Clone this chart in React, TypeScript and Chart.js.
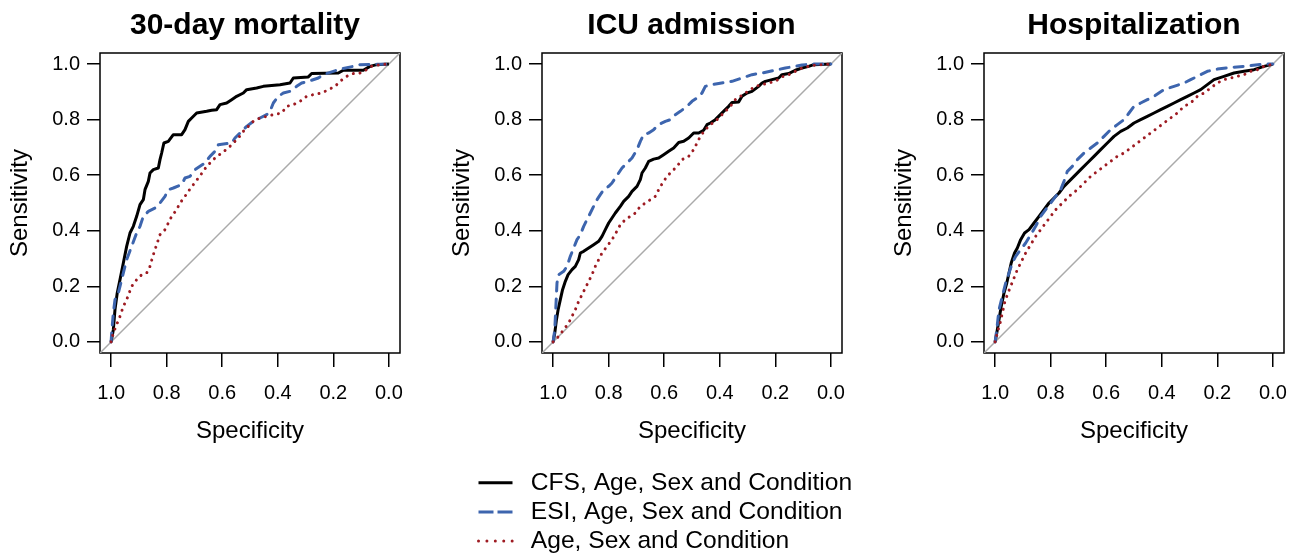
import React, { useEffect, useRef } from 'react';
import { Chart, registerables } from 'chart.js';

Chart.register(...registerables);

const FONT = '"Liberation Sans", Arial, Helvetica, sans-serif';
Chart.defaults.font.family = FONT;
Chart.defaults.color = '#000';

const tickValues = [0, 0.2, 0.4, 0.6, 0.8, 1.0];
const panelTitles = ['30-day mortality', 'ICU admission', 'Hospitalization'];
const seriesNames = ['CFS, Age, Sex and Condition', 'ESI, Age, Sex and Condition', 'Age, Sex and Condition'];
const diagSpec = [1.04, -0.04];
const diagSens = [-0.04, 1.04];

// 30-day mortality
const mortCfsSpec = [1.000, 0.992, 0.986, 0.978, 0.968, 0.956, 0.944, 0.932, 0.920, 0.908, 0.896, 0.884, 0.878, 0.866, 0.860, 0.848, 0.830, 0.824, 0.818, 0.810, 0.794, 0.776, 0.746, 0.734, 0.722, 0.710, 0.692, 0.656, 0.638, 0.620, 0.608, 0.584, 0.566, 0.548, 0.524, 0.512, 0.476, 0.452, 0.392, 0.356, 0.344, 0.290, 0.278, 0.182, 0.164, 0.092, 0.068, 0.044, 0.000];
const mortCfsSens = [0.000, 0.044, 0.116, 0.176, 0.224, 0.284, 0.344, 0.392, 0.416, 0.452, 0.494, 0.512, 0.548, 0.578, 0.608, 0.620, 0.626, 0.656, 0.680, 0.716, 0.722, 0.746, 0.746, 0.764, 0.794, 0.806, 0.824, 0.830, 0.834, 0.836, 0.854, 0.860, 0.872, 0.884, 0.896, 0.908, 0.914, 0.920, 0.926, 0.932, 0.950, 0.954, 0.966, 0.968, 0.978, 0.978, 0.992, 0.998, 1.000];
const mortEsiSpec = [1.000, 0.998, 0.992, 0.986, 0.974, 0.962, 0.944, 0.926, 0.908, 0.896, 0.884, 0.866, 0.842, 0.824, 0.806, 0.794, 0.776, 0.746, 0.734, 0.716, 0.698, 0.680, 0.662, 0.644, 0.626, 0.614, 0.566, 0.554, 0.536, 0.512, 0.488, 0.464, 0.440, 0.428, 0.416, 0.398, 0.380, 0.356, 0.332, 0.314, 0.290, 0.254, 0.236, 0.200, 0.176, 0.128, 0.104, 0.000];
const mortEsiSens = [0.000, 0.032, 0.104, 0.152, 0.176, 0.224, 0.296, 0.344, 0.392, 0.416, 0.452, 0.470, 0.482, 0.500, 0.524, 0.548, 0.554, 0.566, 0.590, 0.596, 0.620, 0.632, 0.644, 0.668, 0.686, 0.710, 0.716, 0.734, 0.752, 0.776, 0.794, 0.806, 0.818, 0.830, 0.860, 0.884, 0.896, 0.902, 0.920, 0.932, 0.938, 0.950, 0.962, 0.974, 0.982, 0.992, 0.998, 1.000];
const mortBaseSpec = [1.000, 0.992, 0.980, 0.968, 0.956, 0.944, 0.926, 0.908, 0.890, 0.872, 0.860, 0.850, 0.842, 0.834, 0.824, 0.806, 0.794, 0.782, 0.764, 0.752, 0.738, 0.722, 0.704, 0.686, 0.668, 0.656, 0.626, 0.602, 0.578, 0.560, 0.542, 0.524, 0.506, 0.488, 0.464, 0.440, 0.416, 0.386, 0.368, 0.344, 0.320, 0.296, 0.272, 0.242, 0.218, 0.194, 0.176, 0.152, 0.128, 0.104, 0.080, 0.062, 0.032, 0.000];
const mortBaseSens = [0.000, 0.032, 0.062, 0.092, 0.128, 0.152, 0.200, 0.224, 0.242, 0.248, 0.272, 0.308, 0.332, 0.356, 0.386, 0.404, 0.428, 0.452, 0.476, 0.500, 0.518, 0.542, 0.566, 0.590, 0.614, 0.632, 0.662, 0.680, 0.698, 0.716, 0.734, 0.758, 0.776, 0.794, 0.806, 0.812, 0.818, 0.824, 0.848, 0.854, 0.866, 0.884, 0.890, 0.896, 0.908, 0.920, 0.938, 0.956, 0.966, 0.968, 0.980, 0.992, 0.998, 1.000];

// ICU admission
const icuCfsSpec = [1.000, 0.994, 0.988, 0.982, 0.974, 0.966, 0.956, 0.946, 0.932, 0.920, 0.908, 0.902, 0.890, 0.872, 0.854, 0.836, 0.824, 0.812, 0.800, 0.788, 0.776, 0.758, 0.746, 0.728, 0.716, 0.698, 0.686, 0.680, 0.668, 0.656, 0.638, 0.620, 0.602, 0.584, 0.566, 0.548, 0.530, 0.512, 0.494, 0.476, 0.458, 0.446, 0.434, 0.416, 0.398, 0.380, 0.368, 0.356, 0.332, 0.320, 0.302, 0.284, 0.260, 0.248, 0.236, 0.212, 0.188, 0.176, 0.152, 0.128, 0.104, 0.080, 0.062, 0.000];
const icuCfsSens = [0.000, 0.032, 0.080, 0.116, 0.152, 0.188, 0.218, 0.242, 0.260, 0.272, 0.296, 0.320, 0.326, 0.338, 0.350, 0.362, 0.380, 0.404, 0.428, 0.446, 0.464, 0.488, 0.506, 0.524, 0.542, 0.560, 0.584, 0.608, 0.626, 0.650, 0.658, 0.662, 0.674, 0.686, 0.698, 0.718, 0.722, 0.734, 0.752, 0.752, 0.762, 0.782, 0.788, 0.800, 0.818, 0.836, 0.848, 0.862, 0.864, 0.884, 0.896, 0.902, 0.920, 0.932, 0.938, 0.944, 0.950, 0.962, 0.966, 0.978, 0.986, 0.992, 0.998, 1.000];
const icuEsiSpec = [1.000, 0.994, 0.990, 0.986, 0.980, 0.962, 0.950, 0.938, 0.926, 0.914, 0.902, 0.890, 0.878, 0.866, 0.854, 0.842, 0.830, 0.818, 0.800, 0.788, 0.776, 0.764, 0.752, 0.734, 0.716, 0.698, 0.686, 0.674, 0.656, 0.638, 0.620, 0.596, 0.578, 0.560, 0.542, 0.518, 0.500, 0.482, 0.464, 0.452, 0.428, 0.404, 0.380, 0.356, 0.332, 0.308, 0.284, 0.248, 0.200, 0.164, 0.128, 0.104, 0.068, 0.000];
const icuEsiSens = [0.000, 0.044, 0.128, 0.212, 0.242, 0.254, 0.272, 0.308, 0.338, 0.368, 0.386, 0.416, 0.440, 0.464, 0.488, 0.512, 0.530, 0.548, 0.560, 0.572, 0.590, 0.608, 0.626, 0.644, 0.662, 0.692, 0.722, 0.746, 0.752, 0.764, 0.782, 0.794, 0.800, 0.818, 0.830, 0.848, 0.866, 0.878, 0.896, 0.920, 0.926, 0.930, 0.934, 0.938, 0.946, 0.954, 0.962, 0.968, 0.978, 0.986, 0.992, 0.997, 1.000, 1.000];
const icuBaseSpec = [1.000, 0.980, 0.962, 0.944, 0.932, 0.920, 0.908, 0.896, 0.884, 0.872, 0.860, 0.848, 0.836, 0.824, 0.806, 0.788, 0.774, 0.758, 0.740, 0.722, 0.704, 0.686, 0.668, 0.650, 0.632, 0.620, 0.606, 0.590, 0.572, 0.554, 0.536, 0.512, 0.494, 0.482, 0.470, 0.452, 0.434, 0.416, 0.398, 0.380, 0.362, 0.344, 0.326, 0.308, 0.290, 0.272, 0.248, 0.224, 0.200, 0.176, 0.152, 0.128, 0.104, 0.080, 0.056, 0.000];
const icuBaseSens = [0.000, 0.020, 0.044, 0.068, 0.092, 0.116, 0.146, 0.170, 0.194, 0.218, 0.242, 0.272, 0.296, 0.320, 0.344, 0.368, 0.392, 0.422, 0.440, 0.452, 0.464, 0.488, 0.500, 0.512, 0.524, 0.548, 0.572, 0.596, 0.614, 0.632, 0.656, 0.668, 0.692, 0.716, 0.740, 0.764, 0.782, 0.794, 0.812, 0.830, 0.848, 0.872, 0.884, 0.896, 0.908, 0.920, 0.926, 0.932, 0.938, 0.954, 0.962, 0.974, 0.986, 0.992, 0.997, 1.000];

// Hospitalization
const hospCfsSpec = [1.000, 0.994, 0.986, 0.978, 0.968, 0.958, 0.950, 0.942, 0.930, 0.920, 0.908, 0.894, 0.878, 0.860, 0.842, 0.824, 0.806, 0.788, 0.770, 0.752, 0.734, 0.716, 0.692, 0.668, 0.644, 0.620, 0.596, 0.572, 0.548, 0.524, 0.500, 0.476, 0.452, 0.428, 0.404, 0.380, 0.356, 0.332, 0.308, 0.284, 0.260, 0.236, 0.212, 0.176, 0.140, 0.104, 0.068, 0.032, 0.000];
const hospCfsSens = [0.000, 0.032, 0.080, 0.128, 0.176, 0.212, 0.248, 0.284, 0.320, 0.338, 0.368, 0.392, 0.404, 0.428, 0.452, 0.476, 0.500, 0.518, 0.536, 0.560, 0.578, 0.596, 0.620, 0.644, 0.668, 0.692, 0.716, 0.740, 0.758, 0.770, 0.788, 0.800, 0.812, 0.824, 0.836, 0.848, 0.860, 0.872, 0.884, 0.896, 0.908, 0.926, 0.944, 0.956, 0.968, 0.974, 0.980, 0.992, 1.000];
const hospEsiSpec = [1.000, 0.994, 0.986, 0.974, 0.962, 0.950, 0.938, 0.926, 0.908, 0.890, 0.872, 0.854, 0.836, 0.818, 0.800, 0.782, 0.764, 0.752, 0.740, 0.722, 0.704, 0.680, 0.656, 0.632, 0.608, 0.584, 0.560, 0.536, 0.518, 0.500, 0.476, 0.452, 0.428, 0.392, 0.356, 0.320, 0.296, 0.272, 0.236, 0.200, 0.152, 0.104, 0.032, 0.000];
const hospEsiSens = [0.000, 0.044, 0.116, 0.164, 0.212, 0.248, 0.284, 0.308, 0.332, 0.356, 0.386, 0.416, 0.452, 0.476, 0.500, 0.524, 0.548, 0.578, 0.614, 0.632, 0.656, 0.680, 0.698, 0.716, 0.740, 0.764, 0.782, 0.800, 0.824, 0.848, 0.860, 0.872, 0.884, 0.908, 0.920, 0.932, 0.944, 0.956, 0.974, 0.982, 0.988, 0.992, 1.000, 1.000];
const hospBaseSpec = [1.000, 0.992, 0.982, 0.974, 0.966, 0.956, 0.944, 0.932, 0.920, 0.908, 0.890, 0.872, 0.854, 0.836, 0.818, 0.800, 0.782, 0.758, 0.734, 0.704, 0.680, 0.656, 0.632, 0.608, 0.584, 0.560, 0.536, 0.512, 0.488, 0.464, 0.440, 0.416, 0.392, 0.368, 0.344, 0.320, 0.296, 0.272, 0.248, 0.224, 0.200, 0.176, 0.152, 0.128, 0.104, 0.080, 0.056, 0.032, 0.000];
const hospBaseSens = [0.000, 0.032, 0.068, 0.104, 0.140, 0.170, 0.200, 0.230, 0.260, 0.284, 0.320, 0.350, 0.380, 0.404, 0.428, 0.452, 0.476, 0.500, 0.524, 0.548, 0.572, 0.596, 0.614, 0.632, 0.650, 0.668, 0.680, 0.698, 0.716, 0.734, 0.752, 0.770, 0.788, 0.806, 0.824, 0.848, 0.860, 0.884, 0.896, 0.914, 0.932, 0.944, 0.950, 0.956, 0.962, 0.974, 0.980, 0.992, 1.000];

const BLACK = '#000000';
const BLUE = '#3D65AE';
const RED = '#9E1B22';
const GRAY = '#AAAAAA';

const toXY = (xs: number[], ys: number[]) => xs.map((x, i) => ({ x, y: ys[i] }));

const boxPlugin = {
  id: 'plotBox',
  beforeDatasetsDraw(chart: any) {
    const { ctx, chartArea } = chart;
    ctx.save();
    ctx.strokeStyle = '#000';
    ctx.lineWidth = 1.5;
    ctx.strokeRect(chartArea.left, chartArea.top, chartArea.right - chartArea.left, chartArea.bottom - chartArea.top);
    ctx.restore();
  },
};

type PanelProps = {
  left: number;
  cfs: [number[], number[]];
  esi: [number[], number[]];
  base: [number[], number[]];
};

function RocPanel({ left, cfs, esi, base }: PanelProps) {
  const ref = useRef<HTMLCanvasElement>(null);
  useEffect(() => {
    const tickFont = { size: 20, family: FONT };
    const titleFont = { size: 24, family: FONT };
    const chart = new Chart(ref.current as HTMLCanvasElement, {
      type: 'line',
      data: {
        datasets: [
          { label: 'diag', data: toXY(diagSpec, diagSens), borderColor: GRAY, borderWidth: 1.5, order: 4 },
          { label: seriesNames[0], data: toXY(cfs[0], cfs[1]), borderColor: BLACK, borderWidth: 3, order: 3 },
          { label: seriesNames[1], data: toXY(esi[0], esi[1]), borderColor: BLUE, borderWidth: 3, borderDash: [9, 8], borderCapStyle: 'round', order: 2 },
          { label: seriesNames[2], data: toXY(base[0], base[1]), borderColor: RED, borderWidth: 3, borderDash: [0.01, 6.7], borderCapStyle: 'round', order: 1 },
        ] as any,
      },
      options: {
        responsive: false,
        animation: false,
        events: [],
        layout: { padding: { left: 0, right: 14, top: 53, bottom: 0 } },
        elements: { point: { radius: 0 }, line: { tension: 0, borderJoinStyle: 'round' } },
        plugins: { legend: { display: false }, tooltip: { enabled: false }, title: { display: false } },
        scales: {
          x: {
            type: 'linear',
            reverse: true,
            min: -0.04,
            max: 1.04,
            afterBuildTicks: (s: any) => { s.ticks = tickValues.map((v) => ({ value: v })); },
            afterFit: (s: any) => { s.height = 107; },
            ticks: { autoSkip: false, maxRotation: 0, padding: 14, color: '#000', font: tickFont, callback: (v: any) => Number(v).toFixed(1) },
            grid: { drawOnChartArea: false, drawTicks: true, tickLength: 14, color: '#000', lineWidth: 1.5 },
            border: { display: false },
            title: { display: true, text: 'Specificity', color: '#000', font: titleFont, padding: { top: 0, bottom: 14 } },
          },
          y: {
            type: 'linear',
            min: -0.04,
            max: 1.04,
            afterBuildTicks: (s: any) => { s.ticks = tickValues.map((v) => ({ value: v })); },
            afterFit: (s: any) => { s.width = 100; },
            ticks: { autoSkip: false, padding: 7, color: '#000', font: tickFont, callback: (v: any) => Number(v).toFixed(1) },
            grid: { drawOnChartArea: false, drawTicks: true, tickLength: 13, color: '#000', lineWidth: 1.5 },
            border: { display: false },
            title: { display: true, text: 'Sensitivity', color: '#000', font: titleFont, padding: { top: 6, bottom: 0 } },
          },
        },
      } as any,
      plugins: [boxPlugin],
    });
    return () => chart.destroy();
  }, []);
  return (
    <canvas
      ref={ref}
      width={414}
      height={460}
      style={{ position: 'absolute', left, top: 0, width: 414, height: 460 }}
    />
  );
}

function LegendChart() {
  const ref = useRef<HTMLCanvasElement>(null);
  useEffect(() => {
    const items = [
      { text: seriesNames[0], fillStyle: 'rgba(0,0,0,0)', strokeStyle: BLACK, lineWidth: 3, lineDash: [34, 60], lineCap: 'butt', pointStyle: 'line', hidden: false, datasetIndex: 0 },
      { text: seriesNames[1], fillStyle: 'rgba(0,0,0,0)', strokeStyle: BLUE, lineWidth: 3, lineDash: [15, 4, 15, 60], lineCap: 'butt', pointStyle: 'line', hidden: false, datasetIndex: 1 },
      { text: seriesNames[2], fillStyle: 'rgba(0,0,0,0)', strokeStyle: RED, lineWidth: 3, lineDash: [0.01, 8.4, 0.01, 8.4, 0.01, 8.4, 0.01, 8.4, 0.01, 60], lineCap: 'round', pointStyle: 'line', hidden: false, datasetIndex: 2 },
    ];
    const chart = new Chart(ref.current as HTMLCanvasElement, {
      type: 'line',
      data: { datasets: [] },
      options: {
        responsive: false,
        animation: false,
        events: [],
        layout: { padding: 0 },
        scales: { x: { display: false }, y: { display: false } },
        plugins: {
          tooltip: { enabled: false },
          legend: {
            display: true,
            position: 'top',
            align: 'start',
            maxHeight: 110,
            labels: {
              usePointStyle: true,
              pointStyleWidth: 40,
              padding: 4.5,
              color: '#000',
              font: { size: 24.6, family: FONT },
              generateLabels: () => items as any,
            },
          },
        },
      } as any,
    });
    return () => chart.destroy();
  }, []);
  return (
    <canvas
      ref={ref}
      width={400}
      height={120}
      style={{ position: 'absolute', left: 473.5, top: 466, width: 400, height: 120 }}
    />
  );
}

const panelLefts = [0, 442, 884];
const titleCenters = [245, 691.5, 1134];

export default function App() {
  const titleStyle = (c: number): React.CSSProperties => ({
    position: 'absolute',
    left: c - 200,
    top: 9,
    width: 400,
    textAlign: 'center',
    font: `bold 30px ${FONT}`,
    lineHeight: '30px',
    color: '#000',
    whiteSpace: 'nowrap',
  });
  return (
    <div style={{ position: 'absolute', left: 0, top: 0, width: 1298, height: 554, overflow: 'hidden', background: '#fff' }}>
      <RocPanel left={panelLefts[0]} cfs={[mortCfsSpec, mortCfsSens]} esi={[mortEsiSpec, mortEsiSens]} base={[mortBaseSpec, mortBaseSens]} />
      <RocPanel left={panelLefts[1]} cfs={[icuCfsSpec, icuCfsSens]} esi={[icuEsiSpec, icuEsiSens]} base={[icuBaseSpec, icuBaseSens]} />
      <RocPanel left={panelLefts[2]} cfs={[hospCfsSpec, hospCfsSens]} esi={[hospEsiSpec, hospEsiSens]} base={[hospBaseSpec, hospBaseSens]} />
      {panelTitles.map((t, i) => (
        <div key={t} style={titleStyle(titleCenters[i])}>{t}</div>
      ))}
      <LegendChart />
    </div>
  );
}
